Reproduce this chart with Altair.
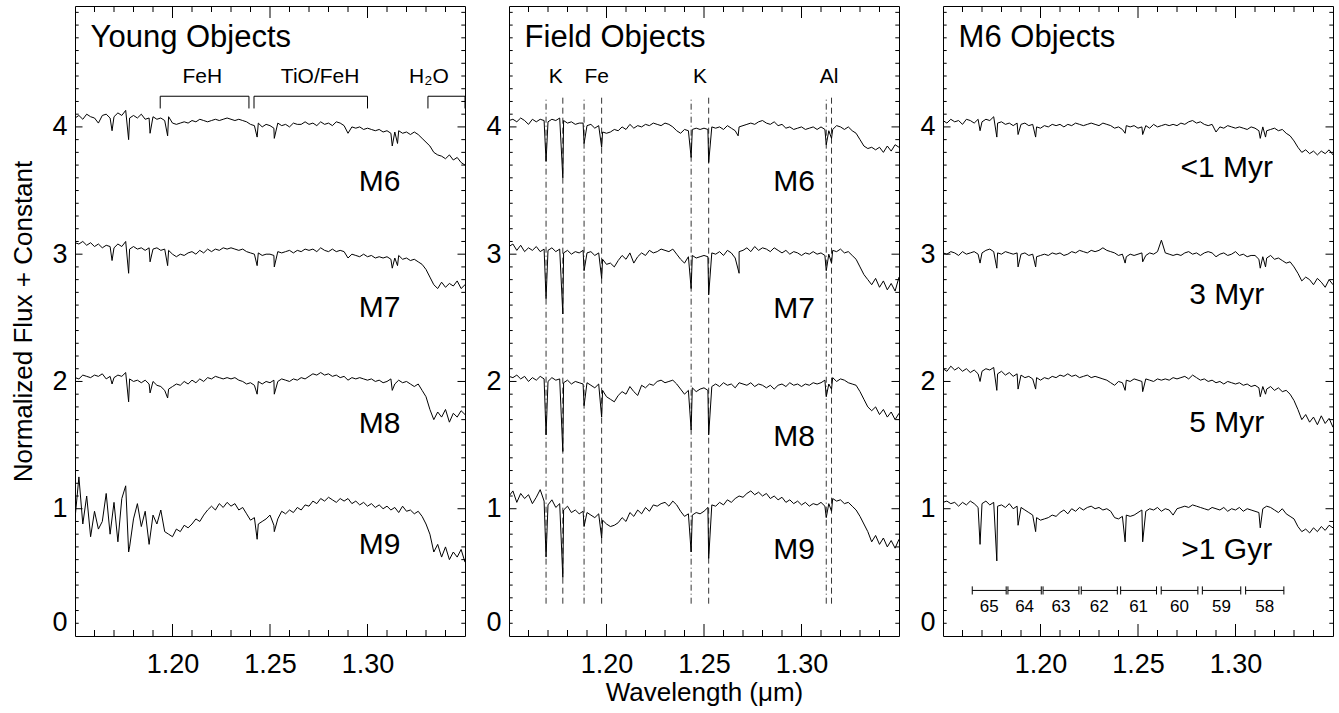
import altair as alt
import pandas as pd

# ---------------- axes / layout values ----------------
X_MIN, X_MAX = 1.15, 1.35
Y_MIN, Y_MAX = 0.0, 4.95
X_LABELS = [1.20, 1.25, 1.30]
Y_LABELS = [0, 1, 2, 3, 4]
X_MAJOR = [1.20, 1.25, 1.30]
X_MINOR = [round(1.15 + 0.01 * i, 2) for i in range(1, 20) if round(1.15 + 0.01 * i, 2) not in X_MAJOR]
Y_MAJOR = [1, 2, 3, 4]
Y_MINOR = [round(0.1 * i, 1) for i in range(1, 50) if i % 10]

# wavelength sampling grid of the spectra (micron)
WAVE = [round(1.150 + 0.002 * i, 3) for i in range(101)]
OFFSETS = [3, 2, 1, 0]

# ---------------- Young objects ----------------
YOUNG_NAMES = ["M6", "M7", "M8", "M9"]
YOUNG = {
    "M6": [1.07,1.09,1.06,1.10,1.08,1.07,1.03,1.09,1.10,1.07,
           1.08,1.11,1.09,1.13,1.07,1.09,1.07,1.10,1.06,1.07,
           1.08,1.06,1.07,1.05,1.08,1.03,1.02,1.03,1.04,1.03,
           1.05,1.04,1.06,1.05,1.04,1.05,1.06,1.05,1.06,1.07,
           1.06,1.05,1.06,1.05,1.04,1.02,1.01,1.03,1.00,1.02,
           1.01,0.99,1.03,1.01,1.02,1.00,1.03,1.02,1.02,1.04,
           1.02,1.03,1.01,1.04,1.02,1.03,1.01,1.04,1.03,1.01,
           0.95,1.00,0.99,1.00,0.98,0.99,0.98,0.97,0.98,0.96,
           0.97,0.95,0.96,0.97,0.95,0.96,0.94,0.96,0.94,0.91,
           0.88,0.85,0.80,0.78,0.77,0.75,0.78,0.74,0.76,0.72,0.70],
    "M7": [1.09,1.08,1.10,1.07,1.09,1.06,1.08,1.05,1.07,1.06,
           1.05,1.08,1.06,1.10,1.04,1.06,1.04,1.05,1.03,1.05,
           1.04,1.05,1.03,1.04,1.03,1.00,0.98,1.00,0.99,1.01,
           1.02,1.00,1.03,1.01,1.04,1.02,1.04,1.03,1.05,1.04,
           1.05,1.04,1.03,1.04,1.02,1.01,1.00,1.01,0.99,1.00,
           1.00,0.99,1.02,1.01,1.02,1.03,1.01,1.03,1.02,1.04,
           1.03,1.04,1.02,1.05,1.03,1.02,1.04,1.02,1.03,1.02,
           0.97,1.00,0.99,0.98,1.00,0.98,0.99,0.97,0.98,0.97,
           0.98,0.96,0.97,0.99,0.96,0.97,0.95,0.96,0.94,0.92,
           0.88,0.82,0.76,0.73,0.78,0.74,0.77,0.75,0.79,0.73,0.76],
    "M8": [1.03,1.02,1.05,1.04,1.03,1.05,1.04,1.06,1.02,1.04,
           1.03,1.05,1.04,1.07,1.02,1.00,1.01,0.99,1.01,0.98,
           1.00,0.97,0.96,0.93,0.94,0.96,0.98,0.97,1.00,0.98,
           1.01,0.99,1.02,1.00,1.03,1.02,1.04,1.03,1.02,1.03,
           1.02,1.03,1.01,1.00,0.98,0.99,0.97,1.00,0.98,1.00,
           0.99,1.01,1.00,1.02,1.01,1.00,1.02,1.01,1.03,1.02,
           1.04,1.06,1.05,1.07,1.05,1.06,1.04,1.05,1.03,1.04,
           1.01,1.03,1.02,1.03,1.02,1.01,1.02,1.00,1.01,0.99,
           1.00,1.02,0.98,1.01,0.99,1.00,0.98,0.96,0.98,0.93,
           0.88,0.78,0.70,0.76,0.72,0.78,0.68,0.75,0.72,0.77,0.74],
    "M9": [0.92,1.25,0.88,1.10,0.78,0.98,0.84,0.90,1.12,0.80,
           1.05,0.74,1.08,1.18,0.70,0.92,1.04,0.86,0.98,0.72,
           0.95,0.88,0.99,0.82,0.80,0.78,0.84,0.82,0.87,0.85,
           0.88,0.92,0.90,0.95,0.99,1.02,0.99,1.04,1.01,1.05,
           1.02,1.04,0.99,1.01,0.96,0.91,0.93,0.88,0.90,0.92,
           0.95,0.87,0.92,0.98,0.96,0.99,0.97,1.01,0.99,1.03,
           1.02,1.06,1.04,1.08,1.06,1.09,1.07,1.05,1.08,1.06,
           1.08,1.04,1.06,1.03,1.05,1.02,1.04,1.01,1.03,1.00,
           1.02,0.99,1.01,0.97,1.02,0.98,0.99,0.96,0.98,0.94,
           0.88,0.80,0.66,0.72,0.62,0.70,0.60,0.66,0.62,0.68,0.58],
}
YOUNG_LINES = {
    "M6": [(1.1690, 0.97), (1.1775, 0.90), (1.1885, 0.95), (1.1975, 0.93),
           (1.2434, 0.92), (1.2522, 0.91), (1.3127, 0.85), (1.3154, 0.87)],
    "M7": [(1.1690, 0.95), (1.1775, 0.85), (1.1885, 0.94), (1.1975, 0.91),
           (1.2434, 0.91), (1.2522, 0.90), (1.3127, 0.89), (1.3154, 0.91)],
    "M8": [(1.1690, 0.98), (1.1775, 0.84), (1.1885, 0.91), (1.1975, 0.87),
           (1.2434, 0.90), (1.2522, 0.90), (1.3127, 0.93)],
    "M9": [(1.1775, 0.66), (1.2434, 0.76), (1.2522, 0.82)],
}
YOUNG_LABEL_X = 1.3062
YOUNG_LABEL_Y = [3.495, 2.505, 1.594, 0.646]

# ---------------- Field objects ----------------
FIELD = {
    "M6": [1.05,1.06,1.04,1.07,1.05,1.02,1.06,1.04,1.06,1.05,
           1.04,1.06,1.05,1.07,1.05,1.03,1.04,1.02,1.03,1.03,
           1.01,1.02,0.99,1.01,0.96,0.95,0.96,0.98,0.97,1.00,
           0.98,1.02,0.99,1.01,1.00,1.02,1.01,1.03,1.02,1.01,
           1.03,1.02,1.00,0.97,0.95,0.98,0.97,0.98,0.99,0.98,
           0.99,0.98,1.00,0.99,1.00,0.98,1.01,0.99,0.97,1.00,
           1.01,1.02,1.03,1.02,1.04,1.05,1.03,1.02,1.04,1.01,
           1.02,0.99,1.00,0.98,0.99,1.00,0.98,0.99,1.00,0.98,
           1.00,0.98,0.97,0.98,1.01,1.00,0.98,1.00,0.97,0.95,
           0.90,0.85,0.83,0.84,0.82,0.84,0.80,0.85,0.81,0.86,0.84],
    "M7": [1.06,1.08,1.03,1.07,1.02,1.05,1.03,1.06,1.02,1.04,
           1.03,1.05,1.02,1.04,1.01,1.03,1.00,1.02,1.01,1.03,
           1.01,1.02,0.99,1.01,0.96,0.92,0.93,0.90,0.95,0.99,
           0.96,1.01,0.93,0.98,1.01,0.99,1.03,1.01,1.02,1.04,
           1.03,1.02,1.04,1.00,0.96,0.93,0.98,0.99,0.97,0.98,
           0.99,0.98,1.01,1.00,1.02,0.99,1.03,1.01,0.97,1.02,
           1.03,1.05,1.02,1.06,1.03,1.05,1.04,1.02,1.05,1.03,
           1.01,1.03,1.00,1.02,1.01,0.99,1.01,1.00,1.02,1.00,
           1.01,0.99,1.00,1.03,1.02,1.04,1.01,1.02,0.99,0.96,
           0.90,0.84,0.80,0.76,0.81,0.74,0.79,0.72,0.77,0.71,0.82],
    "M8": [1.04,1.03,1.05,1.02,1.04,1.00,1.03,1.01,1.04,1.02,
           1.00,1.03,1.01,1.02,0.99,1.01,0.98,1.00,0.99,0.98,
           0.99,0.97,0.95,0.98,0.93,0.88,0.86,0.84,0.89,0.92,
           0.90,0.96,0.92,0.89,0.97,0.95,0.98,0.97,1.00,1.01,
           0.99,1.00,1.01,0.98,0.94,0.90,0.93,0.95,0.92,0.94,
           0.95,0.93,0.96,0.98,0.96,0.99,0.97,0.98,0.95,0.99,
           0.98,0.97,0.99,0.96,0.98,0.97,0.95,0.97,0.94,0.97,
           0.98,0.96,0.99,0.97,0.98,0.96,0.98,0.97,0.99,0.98,
           0.99,1.01,0.98,1.03,1.00,1.02,1.01,0.99,0.98,0.97,
           0.92,0.86,0.80,0.77,0.80,0.74,0.78,0.72,0.76,0.70,0.75],
    "M9": [1.10,1.14,1.05,1.12,1.08,1.11,1.04,1.09,1.15,1.06,
           1.03,1.07,1.01,1.04,0.99,1.02,0.97,0.99,0.96,0.98,
           0.97,0.95,0.93,0.96,0.91,0.88,0.86,0.87,0.89,0.93,
           0.90,0.97,0.94,0.99,0.96,1.01,0.98,1.03,1.02,1.04,
           1.05,1.02,1.06,1.03,0.98,0.94,0.96,0.95,0.97,0.96,
           0.98,1.01,1.03,1.02,1.05,1.03,1.07,1.05,1.08,1.10,
           1.09,1.12,1.14,1.11,1.13,1.10,1.12,1.08,1.10,1.07,
           1.09,1.05,1.07,1.04,1.06,1.03,1.05,1.02,1.04,1.03,
           1.05,1.02,1.04,1.08,1.06,1.07,1.04,1.05,1.02,0.99,
           0.94,0.88,0.82,0.74,0.79,0.72,0.77,0.70,0.75,0.69,0.76],
}
FIELD_LINES = {
    "M6": [(1.1690, 0.73), (1.1776, 0.60), (1.1885, 0.87), (1.1975, 0.84),
           (1.2434, 0.76), (1.2524, 0.72), (1.2675, 0.93), (1.3127, 0.86), (1.3154, 0.91)],
    "M7": [(1.1690, 0.65), (1.1776, 0.53), (1.1885, 0.87), (1.1975, 0.81),
           (1.2434, 0.73), (1.2524, 0.68), (1.2680, 0.85), (1.3127, 0.87), (1.3154, 0.93)],
    "M8": [(1.1690, 0.58), (1.1776, 0.45), (1.1885, 0.81), (1.1975, 0.72),
           (1.2434, 0.62), (1.2524, 0.58), (1.3127, 0.88), (1.3154, 0.94)],
    "M9": [(1.1690, 0.62), (1.1776, 0.46), (1.1885, 0.86), (1.1975, 0.77),
           (1.2434, 0.66), (1.2524, 0.61), (1.3127, 0.93), (1.3154, 0.98)],
}
FIELD_LABEL_X = 1.2962
FIELD_LABEL_Y = [3.495, 2.500, 1.489, 0.607]

LINE_WAVES = [1.1690, 1.1776, 1.1885, 1.1975, 1.2434, 1.2524, 1.3127, 1.3154]
LINE_STYLE = ["dashdot", "dashed", "dashdot", "dashed", "dashdot", "dashed", "dashdot", "dashed"]
LINE_Y_LOW, LINE_Y_HIGH = 0.254, 4.233
ELEMENT_NAMES = ["K", "Fe", "K", "Al"]
ELEMENT_X = [1.1740, 1.1950, 1.2480, 1.3141]
ELEMENT_Y = 4.344

# ---------------- M6 objects ----------------
AGE_NAMES = ["<1 Myr", "3 Myr", "5 Myr", ">1 Gyr"]
AGES = {
    "<1 Myr": [1.05,1.03,1.06,1.04,1.05,1.02,1.06,1.05,1.03,1.06,
               1.04,1.06,1.05,1.08,1.03,1.04,1.02,1.03,1.01,1.03,
               1.02,1.03,1.01,1.02,1.00,0.99,1.01,1.00,1.02,1.01,
               1.02,1.00,1.02,1.01,1.03,1.02,1.01,1.02,1.03,1.02,
               1.01,1.03,1.02,1.01,0.99,1.00,0.98,1.01,1.00,1.01,
               0.99,1.00,1.01,0.99,1.02,1.00,1.01,1.02,1.01,1.02,
               1.01,1.03,1.02,1.04,1.05,1.03,1.04,1.02,1.01,1.02,
               0.96,1.00,0.99,1.01,1.00,0.99,1.00,0.99,0.98,1.00,
               0.99,0.97,1.00,0.97,0.98,0.99,0.97,0.98,0.95,0.93,
               0.89,0.84,0.80,0.82,0.79,0.81,0.78,0.81,0.79,0.82,0.78],
    "3 Myr": [1.01,1.00,1.02,1.01,0.99,1.02,1.00,1.01,1.02,1.00,
              1.01,1.03,1.04,1.02,1.01,1.00,1.02,1.01,1.00,1.01,
              1.00,1.01,0.99,1.00,0.98,0.99,1.00,0.99,1.01,1.00,
              1.01,0.99,1.00,1.02,1.01,1.03,1.02,1.01,1.03,1.02,
              1.03,1.05,1.03,1.02,1.01,0.99,1.00,0.98,1.00,0.99,
              1.00,1.01,0.99,1.01,1.00,1.02,1.11,1.01,1.00,0.99,
              1.00,0.99,1.01,1.02,1.00,1.01,0.99,1.01,1.02,1.01,
              0.98,1.00,1.01,0.99,1.00,1.02,0.99,1.00,0.98,0.99,
              0.99,0.96,0.98,0.97,0.99,0.96,0.97,0.95,0.93,0.94,
              0.90,0.85,0.79,0.82,0.80,0.76,0.81,0.78,0.74,0.80,0.76],
    "5 Myr": [1.10,1.08,1.12,1.09,1.11,1.08,1.10,1.07,1.09,1.06,
              1.08,1.10,1.09,1.11,1.06,1.08,1.05,1.07,1.04,1.06,
              1.05,1.03,1.04,1.02,1.03,1.01,1.03,1.02,1.04,1.03,
              1.05,1.04,1.06,1.04,1.05,1.03,1.04,1.05,1.03,1.04,
              1.03,1.02,1.01,0.99,0.97,1.00,0.99,1.01,1.00,1.02,
              1.01,1.00,1.02,1.01,1.00,1.02,1.01,1.02,1.01,1.03,
              1.02,1.03,1.04,1.02,1.05,1.03,1.01,1.02,1.00,1.01,
              0.99,1.00,0.98,1.00,0.99,0.98,0.99,0.97,0.98,0.96,
              0.97,0.95,0.96,0.94,0.96,0.93,0.95,0.92,0.93,0.90,
              0.85,0.78,0.70,0.74,0.68,0.72,0.66,0.73,0.67,0.71,0.64],
    ">1 Gyr": [1.05,1.06,1.04,1.05,1.02,1.05,1.03,1.06,1.04,1.01,
               1.04,1.06,1.03,1.05,1.02,1.03,1.01,1.04,1.00,1.02,
               1.01,0.99,0.97,0.95,0.93,0.91,0.92,0.93,0.95,0.94,
               0.97,0.99,0.96,1.00,0.98,1.01,0.99,1.01,1.02,1.00,
               1.01,0.99,1.00,0.98,0.93,0.92,0.94,0.95,0.94,0.95,
               0.97,0.99,0.98,1.00,0.99,1.01,0.98,1.00,0.99,0.95,
               1.00,1.01,1.02,1.01,1.03,1.02,1.01,1.00,0.99,1.01,
               1.00,0.99,1.01,0.98,1.00,0.99,1.01,0.98,1.00,0.99,
               0.98,0.97,1.00,1.02,1.01,0.99,0.97,1.00,0.96,0.94,
               0.92,0.86,0.82,0.84,0.81,0.85,0.82,0.86,0.83,0.87,0.85],
}
AGE_LINES = {
    "<1 Myr": [(1.1690, 0.97), (1.1776, 0.92), (1.1885, 0.94), (1.1975, 0.92),
               (1.2434, 0.95), (1.2524, 0.94), (1.3127, 0.91), (1.3154, 0.92)],
    "3 Myr": [(1.1690, 0.93), (1.1776, 0.89), (1.1885, 0.90), (1.1975, 0.90),
              (1.2434, 0.93), (1.2524, 0.94), (1.3127, 0.89), (1.3154, 0.90)],
    "5 Myr": [(1.1690, 1.00), (1.1776, 0.93), (1.1885, 0.94), (1.1975, 0.94),
              (1.2434, 0.93), (1.2524, 0.92), (1.3127, 0.88), (1.3154, 0.90)],
    ">1 Gyr": [(1.1690, 0.72), (1.1776, 0.59), (1.1885, 0.87), (1.1975, 0.82),
               (1.2434, 0.74), (1.2524, 0.74), (1.3127, 0.85)],
}
AGE_LABEL_X = 1.2955
AGE_LABEL_Y = [3.605, 2.605, 1.602, 0.607]

ORDER_NUM = ["65", "64", "63", "62", "61", "60", "59", "58"]
ORDER_START = [1.1650, 1.1833, 1.2013, 1.2209, 1.2411, 1.2619, 1.2830, 1.3052]
ORDER_END = [1.1824, 1.2004, 1.2197, 1.2394, 1.2595, 1.2807, 1.3027, 1.3248]
ORDER_Y = 0.358
ORDER_TICK = 0.032
ORDER_TEXT_Y = 0.227

# ---------------- young-panel band brackets ----------------
BAND_NAMES = ["FeH", "TiO/FeH", "H\u2082O"]
BAND_START = [1.1937, 1.2418, 1.3310]
BAND_END = [1.2392, 1.3000, 1.3500]
BAND_TEXT_X = [1.2153, 1.2757, 1.3315]
BAND_Y = 4.241
BAND_TICK_Y = 4.145
BAND_TEXT_Y = 4.344

PANEL_TITLES = ["Young Objects", "Field Objects", "M6 Objects"]
PANEL_TITLE_X = 1.158
PANEL_TITLE_Y = 4.624

# ---------------- styling ----------------
FONT = "Liberation Sans"
W, H = 390, 630
xs = alt.Scale(domain=[X_MIN, X_MAX], nice=False, zero=False)
ys = alt.Scale(domain=[Y_MIN, Y_MAX], nice=False, zero=False)


def spectra_df(names, spectra, lines):
    rows = []
    for i, name in enumerate(names):
        pts = list(zip(WAVE, spectra[name])) + list(lines[name])
        pts.sort()
        for w, f in pts:
            rows.append({"series": name, "wave": w, "flux": f + OFFSETS[i]})
    return pd.DataFrame(rows)


def make_axes(xtitle, ytitle):
    xaxis = alt.Axis(values=X_LABELS, format=".2f", ticks=False, domain=False, grid=False,
                     labelFont=FONT, labelFontSize=27, labelPadding=15, labelColor="black",
                     titleFont=FONT, titleFontSize=26, titleFontWeight="normal", titleColor="black",
                     titlePadding=2)
    yaxis = alt.Axis(values=Y_LABELS, format="d", ticks=False, domain=False, grid=False,
                     labelFont=FONT, labelFontSize=27, labelPadding=8, labelColor="black",
                     labelFlush=True,
                     titleFont=FONT, titleFontSize=26, titleFontWeight="normal", titleColor="black",
                     titlePadding=15)

    def X(field):
        return alt.X(field, scale=xs, axis=xaxis, title=xtitle)

    def Y(field):
        return alt.Y(field, scale=ys, axis=yaxis, title=ytitle)
    return X, Y


def tick_layers(X, Y):
    layers = []
    for vals, ln in ((X_MAJOR, 12), (X_MINOR, 6)):
        d = pd.DataFrame({"v": vals})
        for y0, y1 in ((H, H - ln), (0, ln)):
            layers.append(alt.Chart(d).mark_rule(color="black", strokeWidth=1).encode(
                x=X("v:Q"), y=alt.value(y0), y2=alt.value(y1)))
    for vals, ln in ((Y_MAJOR, 7.5), (Y_MINOR, 3.7)):
        d = pd.DataFrame({"v": vals})
        for x0, x1 in ((0, ln), (W, W - ln)):
            layers.append(alt.Chart(d).mark_rule(color="black", strokeWidth=1).encode(
                y=Y("v:Q"), x=alt.value(x0), x2=alt.value(x1)))
    return layers


def text_layer(X, Y, df, size, align="center", baseline="alphabetic"):
    return alt.Chart(df).mark_text(font=FONT, fontSize=size, color="black",
                                   align=align, baseline=baseline).encode(
        x=X("x:Q"), y=Y("y:Q"), text="t:N")


def young_extra(X, Y):
    bd = pd.DataFrame({"x1": BAND_START, "x2": BAND_END})
    bd["y"] = BAND_Y
    bt = pd.DataFrame({"x": BAND_START + BAND_END})
    bt["y"] = BAND_Y
    bt["yt"] = BAND_TICK_Y
    return [
        alt.Chart(bd).mark_rule(color="black", strokeWidth=1).encode(x=X("x1:Q"), x2="x2:Q", y=Y("y:Q")),
        alt.Chart(bt).mark_rule(color="black", strokeWidth=1).encode(x=X("x:Q"), y=Y("y:Q"), y2="yt:Q"),
        text_layer(X, Y, pd.DataFrame({"x": BAND_TEXT_X, "y": [BAND_TEXT_Y] * 3, "t": BAND_NAMES}), 21),
    ]


def field_extra(X, Y):
    ld = pd.DataFrame({"x": LINE_WAVES, "style": LINE_STYLE})
    ld["y1"] = LINE_Y_LOW
    ld["y2"] = LINE_Y_HIGH
    return [
        alt.Chart(ld[ld["style"] == "dashdot"]).mark_rule(color="black", strokeWidth=1, opacity=0.8,
                                                         strokeDash=[6, 3, 1, 3]).encode(
            x=X("x:Q"), y=Y("y1:Q"), y2="y2:Q"),
        alt.Chart(ld[ld["style"] == "dashed"]).mark_rule(color="black", strokeWidth=1, opacity=0.8,
                                                        strokeDash=[6, 4]).encode(
            x=X("x:Q"), y=Y("y1:Q"), y2="y2:Q"),
        text_layer(X, Y, pd.DataFrame({"x": ELEMENT_X, "y": [ELEMENT_Y] * 4, "t": ELEMENT_NAMES}), 21),
    ]


def m6_extra(X, Y):
    od = pd.DataFrame({"x1": ORDER_START, "x2": ORDER_END, "t": ORDER_NUM})
    od["y"] = ORDER_Y
    od["xm"] = (od["x1"] + od["x2"]) / 2
    od["ty"] = ORDER_TEXT_Y
    ot = pd.DataFrame({"x": ORDER_START + ORDER_END})
    ot["ya"] = ORDER_Y - ORDER_TICK
    ot["yb"] = ORDER_Y + ORDER_TICK
    return [
        alt.Chart(od).mark_rule(color="black", strokeWidth=1).encode(x=X("x1:Q"), x2="x2:Q", y=Y("y:Q")),
        alt.Chart(ot).mark_rule(color="black", strokeWidth=1).encode(x=X("x:Q"), y=Y("ya:Q"), y2="yb:Q"),
        alt.Chart(od).mark_text(font=FONT, fontSize=17, color="black", baseline="middle").encode(
            x=X("xm:Q"), y=Y("ty:Q"), text="t:N"),
    ]


def panel(idx, df, lab_names, lab_x, lab_y, extra_fn, ytitle, xtitle):
    X, Y = make_axes(xtitle, ytitle)
    spec = alt.Chart(df).mark_line(color="black", strokeWidth=1, clip=True).encode(
        x=X("wave:Q"), y=Y("flux:Q"), detail="series:N", order="wave:Q")
    title = text_layer(X, Y, pd.DataFrame({"x": [PANEL_TITLE_X], "y": [PANEL_TITLE_Y],
                                           "t": [PANEL_TITLES[idx]]}), 31, align="left")
    labels = text_layer(X, Y, pd.DataFrame({"x": [lab_x] * 4, "y": lab_y, "t": lab_names}), 30)
    return alt.layer(spec, *tick_layers(X, Y), *extra_fn(X, Y), title, labels).properties(width=W, height=H)


p1 = panel(0, spectra_df(YOUNG_NAMES, YOUNG, YOUNG_LINES), YOUNG_NAMES, YOUNG_LABEL_X, YOUNG_LABEL_Y,
           young_extra, "Normalized Flux + Constant", None)
p2 = panel(1, spectra_df(YOUNG_NAMES, FIELD, FIELD_LINES), YOUNG_NAMES, FIELD_LABEL_X, FIELD_LABEL_Y,
           field_extra, None, "Wavelength (\u03bcm)")
p3 = panel(2, spectra_df(AGE_NAMES, AGES, AGE_LINES), AGE_NAMES, AGE_LABEL_X, AGE_LABEL_Y,
           m6_extra, None, None)

chart = alt.hconcat(p1, p2, p3, spacing=44, bounds="flush").properties(
    padding={"left": 10, "top": 5, "right": 5, "bottom": 5}
).configure(font=FONT, background="white").configure_view(stroke="black", strokeWidth=1)

chart.save("out.html", embed_options={"renderer": "svg", "actions": False})
